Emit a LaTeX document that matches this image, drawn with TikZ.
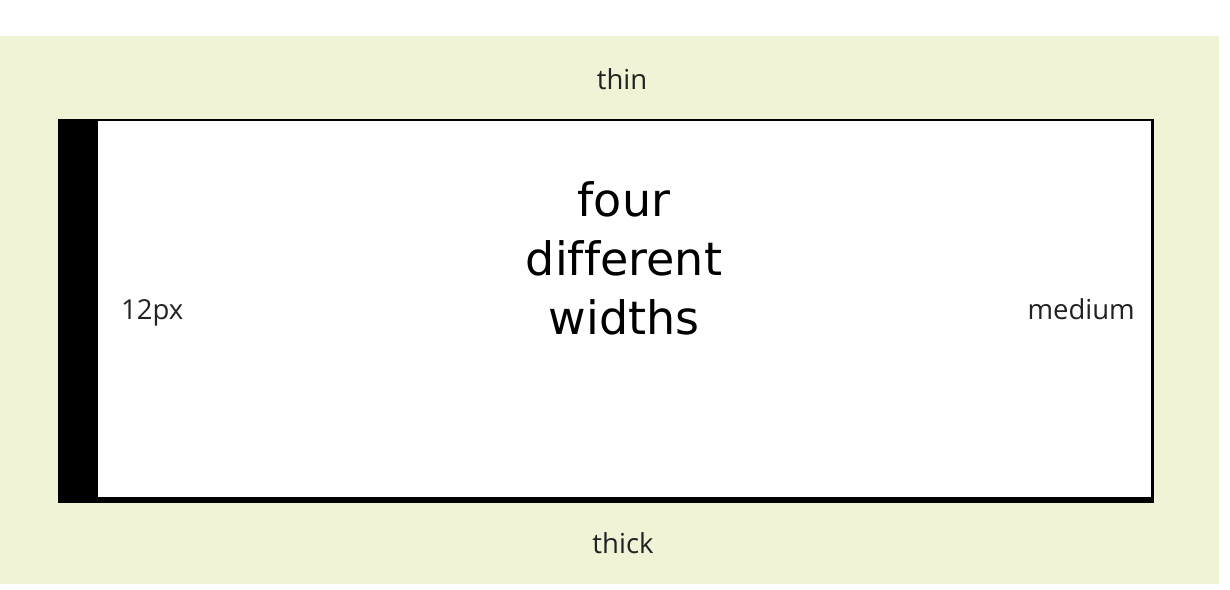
\documentclass[tikz,border=0pt]{standalone}
\usepackage{fontspec}
\setmainfont{Open Sans}
\newfontfamily\boxfont[Ligatures=NoCommon]{DejaVu Sans}
\definecolor{pagebeige}{RGB}{240,243,214}
\definecolor{inkgrey}{RGB}{34,34,34}
\tikzstyle{sidetext} = [text=inkgrey, font=\fontsize{27.5}{32}\selectfont, inner sep=0pt]
\tikzstyle{boxtext} = [text=black, font=\boxfont\fontsize{46}{59}\selectfont, align=center, inner sep=0pt]
\tikzstyle{edge} = [fill=black, draw=none]

\begin{document}
\begin{tikzpicture}[x=1pt, y=-1pt]
    % Page and background
    \useasboundingbox (0,0) rectangle (1230,589);
    \fill [white] (0,0) rectangle (1230,589);
    \fill [pagebeige] (0,36) rectangle (1219,584);
    % The box with its four borders
    \fill [white] (58,119) rectangle (1154,503);
    \path [edge] (58,119) rectangle (98,503);
    \path [edge] (58,119) rectangle (1154,120.5);
    \path [edge] (1150.5,119) rectangle (1154,503);
    \path [edge] (58,497) rectangle (1154,503);
    % Place labels
    \node [boxtext] (center) at (624,258) {four\\different\\widths};
    \node [sidetext, anchor=base] (top) at (622,89) {thin};
    \node [sidetext, anchor=base west] (left) at (121,319) {12px};
    \node [sidetext, anchor=base east] (right) at (1135,319) {medium};
    \node [sidetext, anchor=base] (bottom) at (623,553) {thick};
\end{tikzpicture}
\end{document}
